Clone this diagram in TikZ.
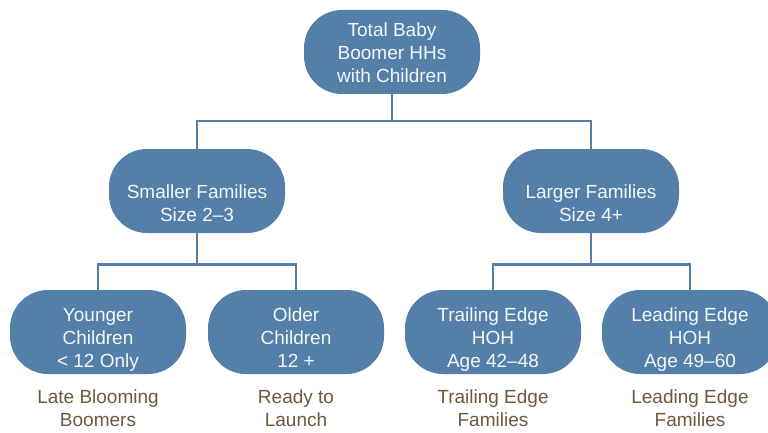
\documentclass[tikz,border=0pt]{standalone}
\usepackage{fontspec}
\setmainfont{Liberation Sans}
\usepackage{tikz}
\definecolor{BoomerBlue}{HTML}{547FA8}
\definecolor{BoomerBrown}{HTML}{6E573D}

\begin{document}
\begin{tikzpicture}[
    x=1pt,
    y=-1pt,
    every node/.style={
      font=\fontsize{19}{23}\selectfont,
      align=center
    },
    segment/.style={
      fill=BoomerBlue,
      text=white!94!BoomerBlue,
      rectangle,
      rounded corners=38pt,
      minimum width=176pt,
      minimum height=84pt,
      inner sep=0pt,
      text height=63pt,
      text depth=2pt
    },
    lowrow/.style={
      text height=72pt,
      text depth=2pt
    },
    caption/.style={
      text=BoomerBrown
    },
    branch/.style={
      draw=BoomerBlue,
      line width=2.6pt
    },
  ]
  \useasboundingbox (0,0) rectangle (768,433);
  \clip (0,0) rectangle (768,433);

  % tree of segments
  \node[segment] (total) at (392,52) {Total Baby\\Boomer HHs\\with Children};
  \node[segment] (smaller) at (197,191) {Smaller Families\\Size 2--3};
  \node[segment] (larger) at (591,191) {Larger Families\\Size 4+};
  \node[segment, lowrow] (younger) at (98,332) {Younger\\Children\\< 12 Only};
  \node[segment, lowrow] (older) at (296,332) {Older\\Children\\12 +};
  \node[segment, lowrow] (trailing) at (493,332) {Trailing Edge\\HOH\\Age 42--48};
  \node[segment, lowrow] (leading) at (690,332) {Leading Edge\\HOH\\Age 49--60};

  % names under the bottom row
  \node[caption] (younger-name) at (98,408) {Late Blooming\\Boomers};
  \node[caption] (older-name) at (296,408) {Ready to\\Launch};
  \node[caption] (trailing-name) at (493,408) {Trailing Edge\\Families};
  \node[caption] (leading-name) at (690,408) {Leading Edge\\Families};

  % connectors
  \draw[branch] (total.south) -- ++(0,27) -| (smaller.north);
  \draw[branch] (total.south) -- ++(0,27) -| (larger.north);
  \draw[branch] (smaller.south) -- ++(0,31) -| (younger.north);
  \draw[branch] (smaller.south) -- ++(0,31) -| (older.north);
  \draw[branch] (larger.south) -- ++(0,31) -| (trailing.north);
  \draw[branch] (larger.south) -- ++(0,31) -| (leading.north);
\end{tikzpicture}
\end{document}
